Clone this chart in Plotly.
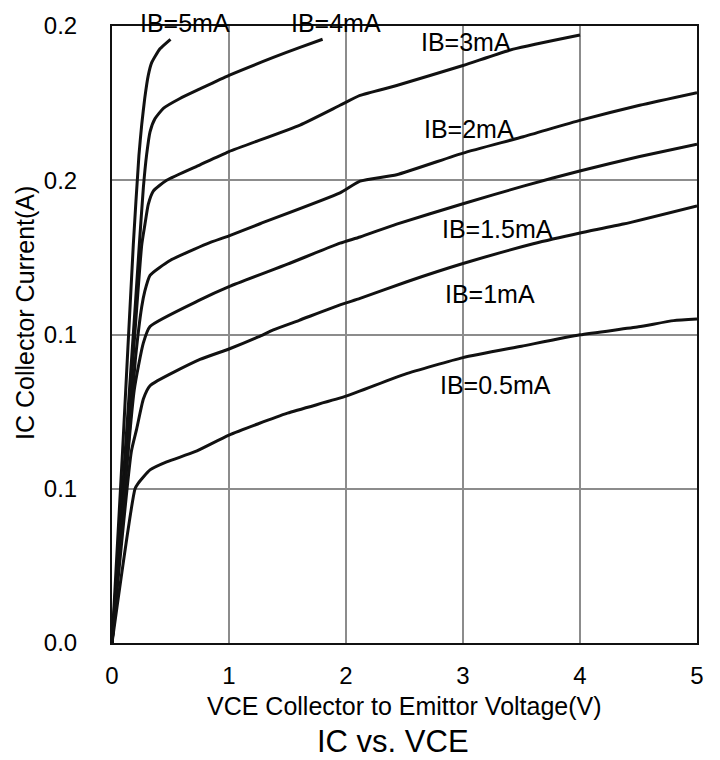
import plotly.graph_objects as go

# Output characteristics: collector current vs collector-emitter voltage
# for several base currents.
ib_labels = ["IB=5mA", "IB=4mA", "IB=3mA", "IB=2mA", "IB=1.5mA", "IB=1mA", "IB=0.5mA"]

vce_5ma = [0, 0.09, 0.182, 0.23, 0.254, 0.28, 0.31, 0.34, 0.41, 0.5]
ic_5ma = [0, 0.062, 0.129, 0.158, 0.168, 0.1766, 0.184, 0.1882, 0.1926, 0.1957]

vce_4ma = [0, 0.1, 0.2, 0.234, 0.268, 0.296, 0.325, 0.368, 0.439, 0.581, 0.752, 1.0, 1.379, 1.607, 1.8]
ic_4ma = [0, 0.055, 0.11, 0.1294, 0.1476, 0.1583, 0.1657, 0.17, 0.1733, 0.1765, 0.1796, 0.184, 0.1898, 0.1931, 0.1957]

vce_3ma = [0, 0.12, 0.254, 0.282, 0.31, 0.353, 0.467, 0.752, 1.0, 1.607, 1.949, 2.12, 2.433, 3.0, 3.43, 4.0]
ic_3ma = [0, 0.061, 0.129, 0.1358, 0.1422, 0.1465, 0.150, 0.155, 0.1593, 0.1679, 0.1743, 0.1775, 0.1807, 0.1872, 0.1925, 0.1971]

vce_2ma = [0, 0.2, 0.254, 0.28, 0.325, 0.496, 0.81, 1.0, 1.265, 1.949, 2.12, 2.433, 3.0, 3.515, 4.006, 4.51, 5.0]
ic_2ma = [0, 0.092, 0.109, 0.114, 0.1192, 0.124, 0.1294, 0.132, 0.1359, 0.1459, 0.1497, 0.1518, 0.1588, 0.1641, 0.1695, 0.1743, 0.1784]

vce_1p5ma = [0, 0.19, 0.268, 0.325, 0.752, 1.0, 1.5, 1.949, 2.12, 2.433, 3.0, 3.515, 4.006, 4.51, 5.0]
ic_1p5ma = [0, 0.082, 0.0973, 0.1026, 0.1112, 0.1155, 0.1228, 0.1296, 0.1316, 0.1358, 0.1424, 0.1481, 0.1531, 0.1577, 0.1617]

vce_1ma = [0, 0.165, 0.211, 0.268, 0.325, 0.752, 1.0, 1.25, 1.379, 1.6, 1.949, 2.12, 2.52, 3.0, 3.6, 4.0, 4.37, 5.0]
ic_1ma = [0, 0.062, 0.0694, 0.0791, 0.0834, 0.0919, 0.0953, 0.0992, 0.1015, 0.1046, 0.1096, 0.1117, 0.1171, 0.123, 0.1294, 0.1329, 0.1358, 0.1417]

vce_0p5ma = [0, 0.197, 0.225, 0.325, 0.467, 0.709, 1.0, 1.5, 2.0, 2.5, 3.0, 3.5, 4.0, 4.5, 4.8, 5.0]
ic_0p5ma = [0, 0.05, 0.0518, 0.0561, 0.0587, 0.062, 0.0674, 0.0745, 0.080, 0.0871, 0.0925, 0.0962, 0.0999, 0.1025, 0.1045, 0.105]

# Where each curve's label sits (VCE, IC)
label_x = [0.624, 1.915, 3.026, 3.051, 3.291, 3.231, 3.282]
label_y = [0.2010, 0.2010, 0.1949, 0.1666, 0.1342, 0.1130, 0.0835]

x_ticks = [0, 1, 2, 3, 4, 5]
y_ticks = [0, 0.05, 0.1, 0.15, 0.2]
y_tick_text = ["0.0", "0.1", "0.1", "0.2", "0.2"]

x_range = [0, 5]
y_range = [0, 0.2]

curves = [
    (vce_5ma, ic_5ma),
    (vce_4ma, ic_4ma),
    (vce_3ma, ic_3ma),
    (vce_2ma, ic_2ma),
    (vce_1p5ma, ic_1p5ma),
    (vce_1ma, ic_1ma),
    (vce_0p5ma, ic_0p5ma),
]

FONT = "Arial, Liberation Sans, sans-serif"

fig = go.Figure()
for name, (xs, ys) in zip(ib_labels, curves):
    fig.add_trace(go.Scatter(
        x=xs, y=ys, mode="lines", name=name,
        line=dict(color="#111111", width=3, shape="spline", smoothing=0.5),
        showlegend=False, hoverinfo="skip",
    ))

# Curve labels: positioned on the axis domain so the top ones may sit
# slightly above the plotting area without being dropped.
for text, lx, ly in zip(ib_labels, label_x, label_y):
    fig.add_annotation(
        x=lx, y=(ly - y_range[0]) / (y_range[1] - y_range[0]),
        xref="x", yref="y domain", text=text,
        showarrow=False, xanchor="center", yanchor="middle",
        font=dict(family=FONT, size=25, color="#000000"))

fig.add_annotation(x=0.5, y=-0.1027, xref="paper", yref="paper",
                   text="VCE Collector to Emittor Voltage(V)", showarrow=False,
                   xanchor="center", yanchor="middle",
                   font=dict(family=FONT, size=25, color="#000000"))
fig.add_annotation(x=0.480, y=-0.159, xref="paper", yref="paper",
                   text="IC vs. VCE", showarrow=False,
                   xanchor="center", yanchor="middle",
                   font=dict(family=FONT, size=31, color="#000000"))
fig.add_annotation(x=-0.1487, y=0.535, xref="paper", yref="paper",
                   text="IC Collector Current(A)", showarrow=False, textangle=-90,
                   xanchor="center", yanchor="middle",
                   font=dict(family=FONT, size=25, color="#000000"))

fig.update_xaxes(
    range=x_range, tickvals=x_ticks, ticks="", ticklabelstandoff=10,
    showgrid=True, gridcolor="#8c8c8c", gridwidth=1.5,
    showline=True, linecolor="#111111", linewidth=2, mirror=True,
    zeroline=False, tickfont=dict(family=FONT, size=24, color="#000000"),
)
fig.update_yaxes(
    range=y_range, tickvals=y_ticks, ticktext=y_tick_text, ticks="",
    ticklabelstandoff=28,
    showgrid=True, gridcolor="#8c8c8c", gridwidth=1.5,
    showline=True, linecolor="#111111", linewidth=2, mirror=True,
    zeroline=False, tickfont=dict(family=FONT, size=24, color="#000000"),
)

fig.update_layout(
    width=720, height=760,
    margin=dict(l=112, r=23, t=20, b=117),
    paper_bgcolor="#ffffff", plot_bgcolor="#ffffff",
)

fig.write_html("out.html")
